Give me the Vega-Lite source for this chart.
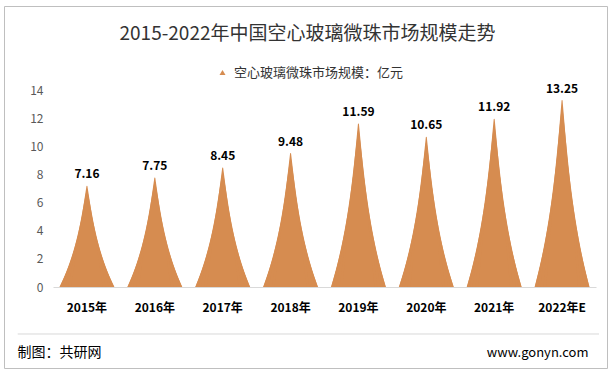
{
  "$schema": "https://vega.github.io/schema/vega-lite/v6.json",
  "width": 603,
  "height": 362,
  "autosize": {"type": "none"},
  "padding": {"left": 4, "top": 6, "right": 8, "bottom": 7},
  "background": "white",
  "config": {"view": {"stroke": "#BFBFBF", "strokeWidth": 1}, "font": "Noto Sans CJK SC"},
  "title": {
    "text": "2015-2022年中国空心玻璃微珠市场规模走势",
    "fontSize": 19,
    "font": "Noto Sans CJK SC",
    "fontWeight": "normal",
    "color": "#333333",
    "anchor": "middle",
    "baseline": "middle",
    "offset": -47,
    "dx": 2
  },
  "data": {
    "values": [
      {"year": "2015年", "value": 7.16},
      {"year": "2016年", "value": 7.75},
      {"year": "2017年", "value": 8.45},
      {"year": "2018年", "value": 9.48},
      {"year": "2019年", "value": 11.59},
      {"year": "2020年", "value": 10.65},
      {"year": "2021年", "value": 11.92},
      {"year": "2022年E", "value": 13.25}
    ]
  },
  "transform": [
    {"stack": "value", "groupby": ["year"], "as": ["s0", "s1"]},
    {"fold": ["s0", "s1"], "as": ["key", "h"]}
  ],
  "resolve": {"scale": {"x": "independent", "y": "independent", "size": "independent"}},
  "layer": [
    {
      "mark": {"type": "trail", "color": "#D68C50"},
      "encoding": {
        "x": {"field": "year", "type": "nominal", "bandPosition": 0.5, "scale": {"type": "band", "range": [49, 592], "paddingInner": 0, "paddingOuter": 0}, "axis": null},
        "y": {"field": "h", "type": "quantitative", "scale": {"domain": [0, 25.78], "range": [281, 84], "nice": false}, "axis": null},
        "size": {"field": "key", "type": "nominal", "scale": {"type": "point", "domain": ["s0", "s1"], "range": [55, 0], "padding": 0}, "legend": null},
        "detail": {"field": "year"}
      }
    },
    {
      "mark": {"type": "trail", "color": "#D68C50"},
      "encoding": {
        "x": {"field": "year", "type": "nominal", "bandPosition": 0.5, "scale": {"type": "band", "range": [49, 592], "paddingInner": 0, "paddingOuter": 0}, "axis": null},
        "y": {"field": "h", "type": "quantitative", "scale": {"domain": [0, 22.69], "range": [281, 84], "nice": false}, "axis": null},
        "size": {"field": "key", "type": "nominal", "scale": {"type": "point", "domain": ["s0", "s1"], "range": [54.3, 0], "padding": 0}, "legend": null},
        "detail": {"field": "year"}
      }
    },
    {
      "mark": {"type": "trail", "color": "#D68C50"},
      "encoding": {
        "x": {"field": "year", "type": "nominal", "bandPosition": 0.5, "scale": {"type": "band", "range": [49, 592], "paddingInner": 0, "paddingOuter": 0}, "axis": null},
        "y": {"field": "h", "type": "quantitative", "scale": {"domain": [0, 19.89], "range": [281, 84], "nice": false}, "axis": null},
        "size": {"field": "key", "type": "nominal", "scale": {"type": "point", "domain": ["s0", "s1"], "range": [52.1, 0], "padding": 0}, "legend": null},
        "detail": {"field": "year"}
      }
    },
    {
      "mark": {"type": "trail", "color": "#D68C50"},
      "encoding": {
        "x": {"field": "year", "type": "nominal", "bandPosition": 0.5, "scale": {"type": "band", "range": [49, 592], "paddingInner": 0, "paddingOuter": 0}, "axis": null},
        "y": {"field": "h", "type": "quantitative", "scale": {"domain": [0, 17.66], "range": [281, 84], "nice": false}, "axis": null},
        "size": {"field": "key", "type": "nominal", "scale": {"type": "point", "domain": ["s0", "s1"], "range": [48.5, 0], "padding": 0}, "legend": null},
        "detail": {"field": "year"}
      }
    },
    {
      "mark": {"type": "trail", "color": "#D68C50"},
      "encoding": {
        "x": {"field": "year", "type": "nominal", "bandPosition": 0.5, "scale": {"type": "band", "range": [49, 592], "paddingInner": 0, "paddingOuter": 0}, "axis": null},
        "y": {"field": "h", "type": "quantitative", "scale": {"domain": [0, 15.86], "range": [281, 84], "nice": false}, "axis": null},
        "size": {"field": "key", "type": "nominal", "scale": {"type": "point", "domain": ["s0", "s1"], "range": [43.5, 0], "padding": 0}, "legend": null},
        "detail": {"field": "year"}
      }
    },
    {
      "mark": {"type": "trail", "color": "#D68C50"},
      "encoding": {
        "x": {"field": "year", "type": "nominal", "bandPosition": 0.5, "scale": {"type": "band", "range": [49, 592], "paddingInner": 0, "paddingOuter": 0}, "axis": null},
        "y": {"field": "h", "type": "quantitative", "scale": {"domain": [0, 14.57], "range": [281, 84], "nice": false}, "axis": null},
        "size": {"field": "key", "type": "nominal", "scale": {"type": "point", "domain": ["s0", "s1"], "range": [37.5, 0], "padding": 0}, "legend": null},
        "detail": {"field": "year"}
      }
    },
    {
      "mark": {"type": "trail"},
      "encoding": {
        "x": {
          "field": "year", "type": "nominal", "bandPosition": 0.5,
          "scale": {"type": "band", "range": [49, 592], "paddingInner": 0, "paddingOuter": 0},
          "axis": {
            "orient": "bottom", "offset": -81, "domainColor": "#D9D9D9", "domainWidth": 1, "ticks": false,
            "labelAngle": 0, "labelFontSize": 12, "labelFontWeight": "bold", "labelColor": "#000000", "labelPadding": 15,
            "labelFont": "Noto Sans CJK SC",
            "title": "制图：共研网", "titleX": 13, "titleY": 65, "titleAlign": "left", "titleBaseline": "middle",
            "titleFontSize": 14, "titleFontWeight": "normal", "titleColor": "#000000", "titleFont": "Noto Sans CJK SC",
            "zindex": 1
          }
        },
        "y": {
          "field": "h", "type": "quantitative",
          "scale": {"domain": [0, 14], "range": [281, 84], "nice": false},
          "axis": {
            "orient": "left", "offset": -45, "domain": false, "ticks": false, "grid": false,
            "values": [0, 2, 4, 6, 8, 10, 12, 14], "labelPadding": 6, "labelColor": "#595959", "labelFontSize": 12,
            "labelFont": "Noto Sans CJK SC",
            "title": "www.gonyn.com", "titleAngle": 0, "titleX": 539, "titleY": 346, "titleAlign": "right",
            "titleBaseline": "middle", "titleFontSize": 13, "titleFontWeight": "normal", "titleColor": "#000000",
            "titleFont": "Noto Sans CJK SC"
          }
        },
        "size": {"field": "key", "type": "nominal", "scale": {"type": "point", "domain": ["s0", "s1"], "range": [31.9, 0], "padding": 0}, "legend": null},
        "detail": {"field": "year"},
        "color": {
          "datum": "空心玻璃微珠市场规模：亿元", "type": "nominal",
          "scale": {"range": ["#D68C50"]},
          "legend": {
            "orient": "none", "legendX": 212, "legendY": 60, "title": null, "symbolType": "triangle-up",
            "symbolSize": 36, "symbolFillColor": "#D68C50", "symbolStrokeWidth": 0,
            "labelFontSize": 13, "labelColor": "#333333", "labelFont": "Noto Sans CJK SC", "labelLimit": 400,
            "labelOffset": 5, "padding": 0
          }
        }
      }
    },
    {
      "transform": [{"filter": "datum.key === 's0'"}],
      "mark": {"type": "bar", "color": "white"},
      "encoding": {
        "x": {"field": "year", "type": "nominal", "scale": {"type": "band", "range": [49, 592], "paddingInner": 0, "paddingOuter": 0}, "axis": null},
        "y": {"field": "h", "type": "quantitative", "scale": {"domain": [0, 14], "range": [281, 84], "nice": false}, "axis": null},
        "y2": {"datum": -2.1}
      }
    },
    {
      "transform": [{"filter": "datum.key === 's0' && datum.year === '2015年'"}],
      "mark": {"type": "rule", "color": "#D9D9D9", "strokeWidth": 1},
      "encoding": {
        "x": {"datum": 0, "type": "quantitative", "scale": {"domain": [0, 1], "range": [13.7, 595]}, "axis": null},
        "x2": {"datum": 1},
        "y": {"datum": -3.34, "type": "quantitative", "scale": {"domain": [0, 14], "range": [281, 84], "nice": false}, "axis": null}
      }
    },
    {
      "transform": [{"filter": "datum.key === 's1'"}],
      "mark": {"type": "text", "fontWeight": "bold", "fontSize": 12, "color": "#000000", "baseline": "middle", "dy": -12, "font": "Noto Sans CJK SC"},
      "encoding": {
        "x": {"field": "year", "type": "nominal", "scale": {"type": "band", "range": [49, 592], "paddingInner": 0, "paddingOuter": 0}, "axis": null},
        "y": {"field": "h", "type": "quantitative", "scale": {"domain": [0, 14], "range": [281, 84], "nice": false}, "axis": null},
        "text": {"field": "value", "type": "quantitative", "format": ".2f"}
      }
    }
  ]
}
